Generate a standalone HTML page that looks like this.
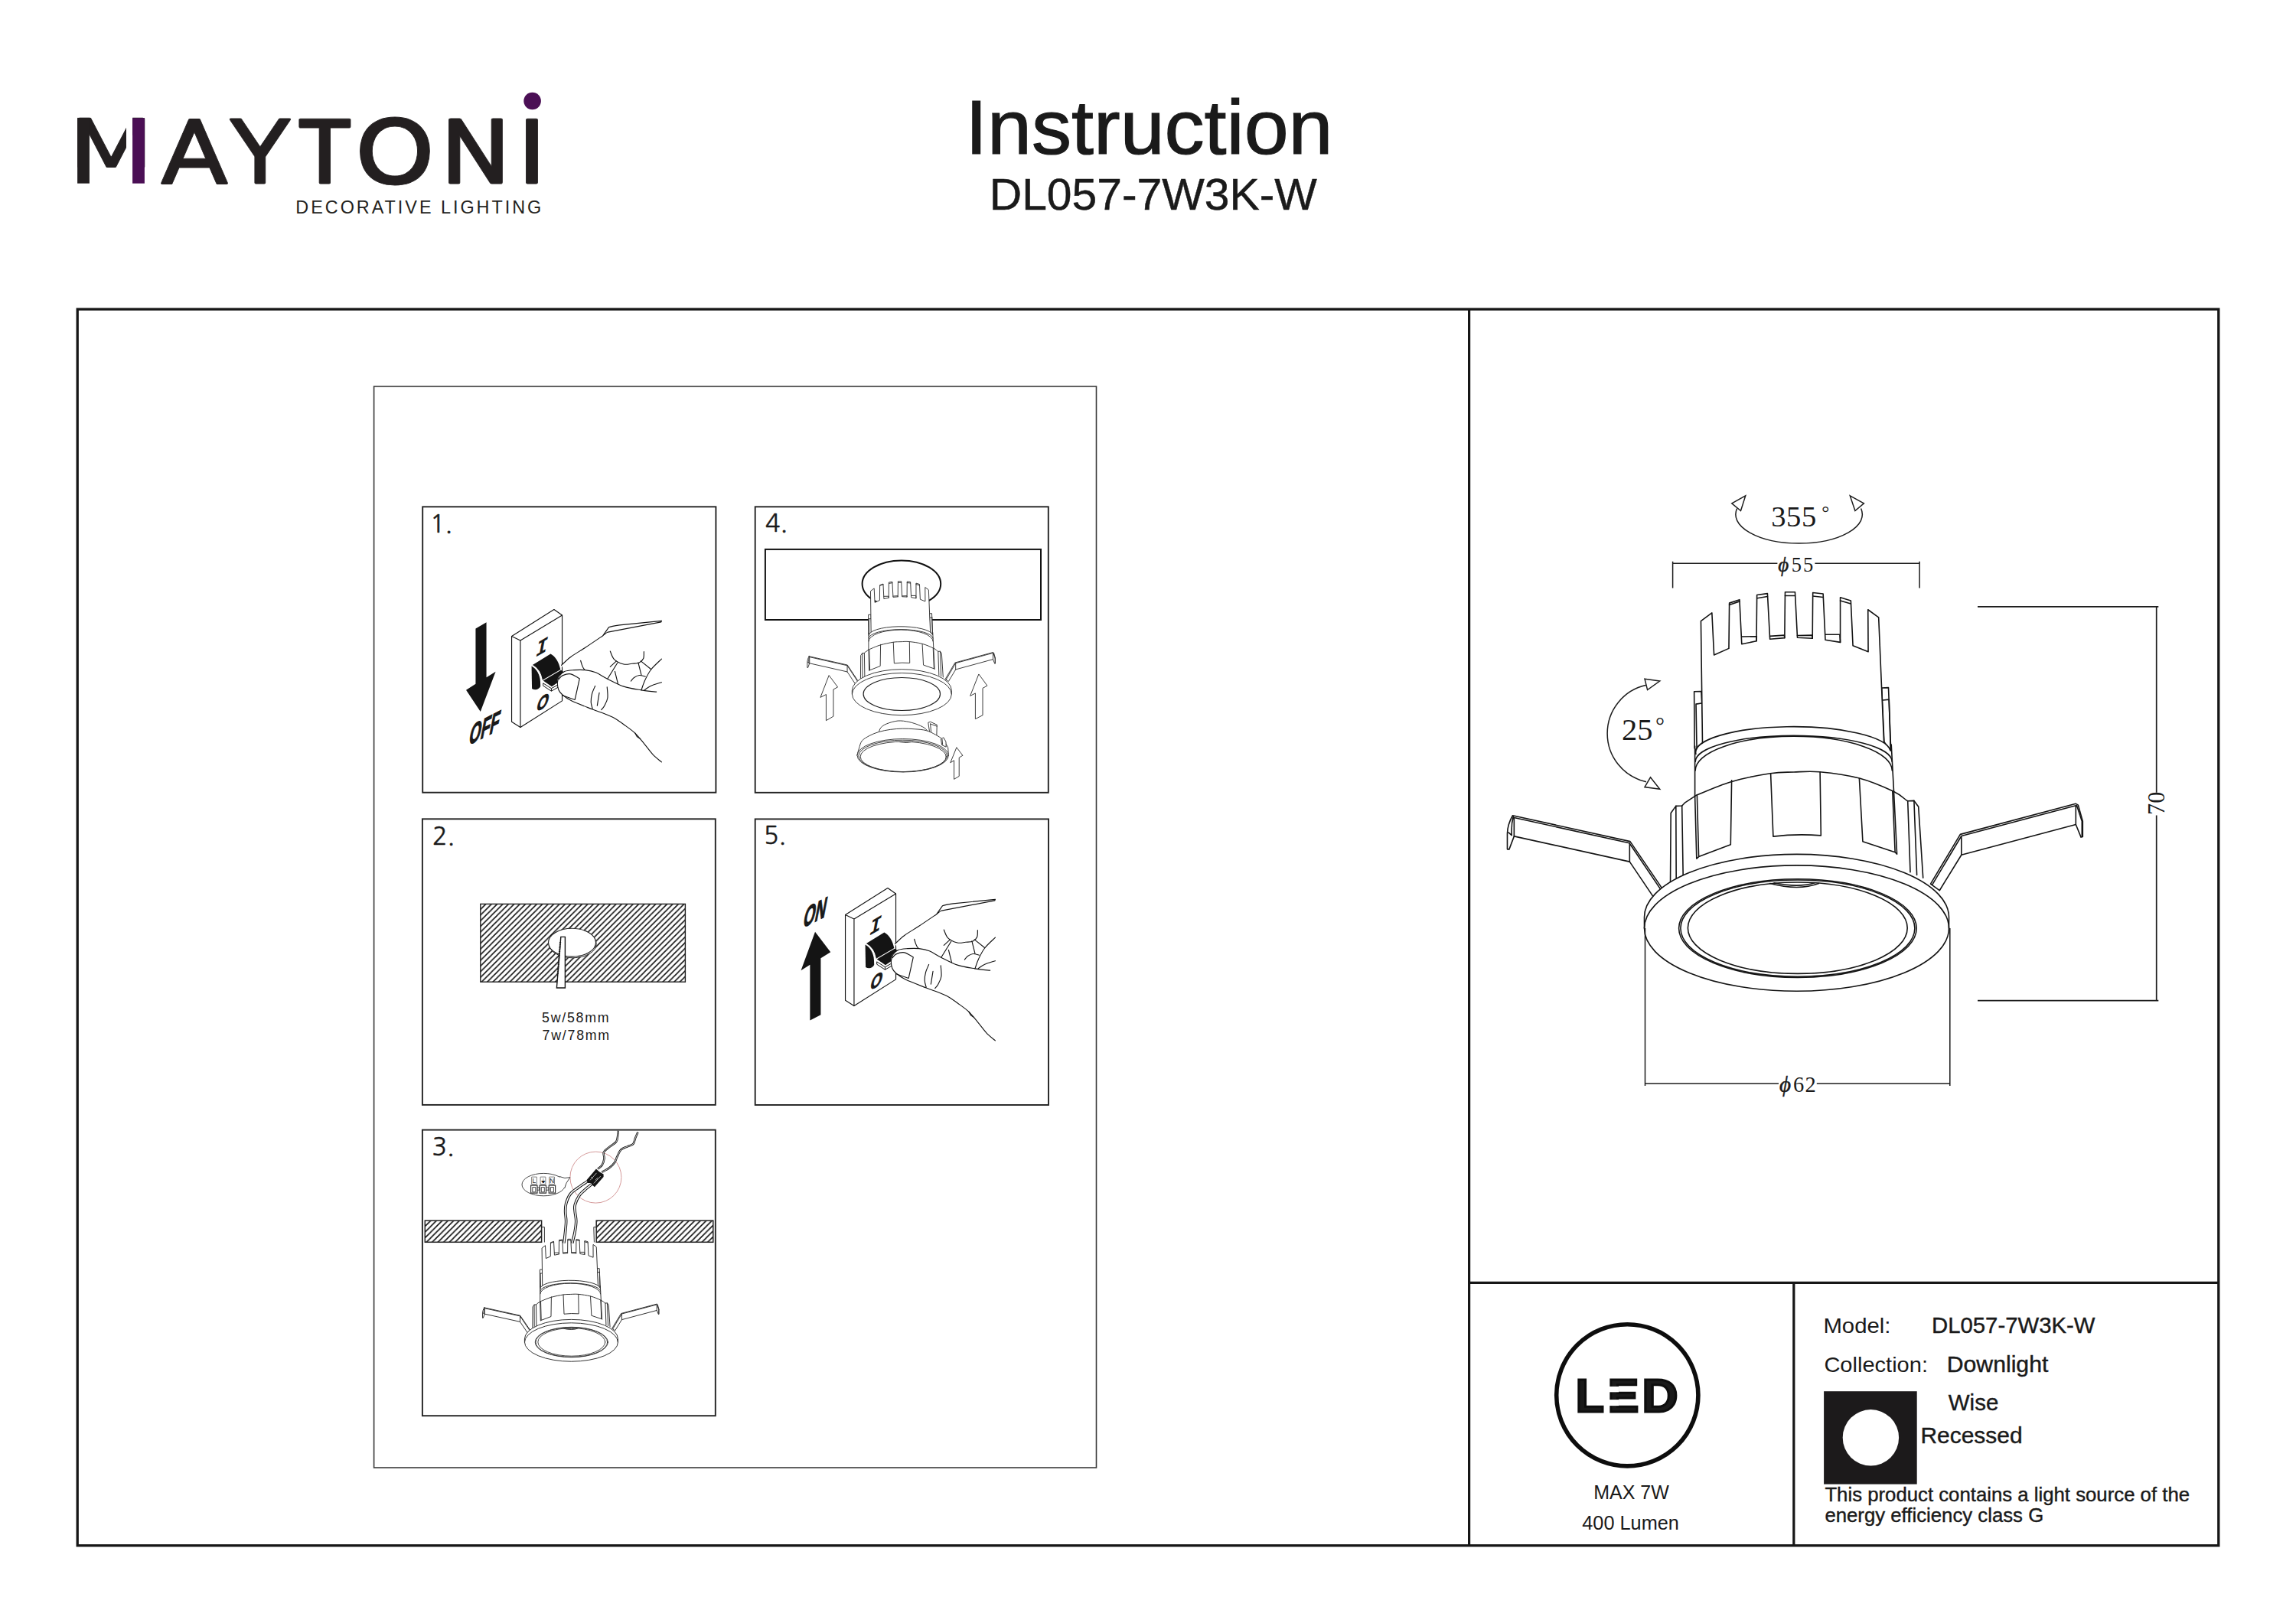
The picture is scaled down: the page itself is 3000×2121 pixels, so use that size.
<!DOCTYPE html>
<html lang="en"><head><meta charset="utf-8"><title>Instruction DL057-7W3K-W</title>
<style>
html,body{margin:0;padding:0;background:#fff}
body{width:3000px;height:2121px;overflow:hidden;position:relative}
svg{position:absolute;left:0;top:0;display:block}
text{font-family:"Liberation Sans",sans-serif;fill:#1a1a1a}
.se{font-family:"Liberation Serif",serif}
.ng{font-family:"NanumGothic","Liberation Sans",sans-serif}
.k{fill:none;stroke:var(--c,#141414);vector-effect:non-scaling-stroke;stroke-linecap:round;stroke-linejoin:round}
.kw{fill:#fff;stroke:var(--c,#141414);vector-effect:non-scaling-stroke;stroke-linecap:round;stroke-linejoin:round}
.w{fill:#fff;stroke:none}
.b{fill:#141414;stroke:none}
</style></head><body>
<svg width="3000" height="2121" viewBox="0 0 3000 2121">
<defs>
<pattern id="hatchA" patternUnits="userSpaceOnUse" width="7.4" height="7.4" patternTransform="translate(627.6,1181.3)">
<path d="M-1,1 L1,-1 M-0.5,7.9 L7.9,-0.5 M6.4,8.4 L8.4,6.4" stroke="#0c0c0c" stroke-width="1.5" fill="none"/>
</pattern>
<pattern id="hatchB" patternUnits="userSpaceOnUse" width="7.5" height="7.5" patternTransform="translate(555.1,1595.4)">
<path d="M-1,1 L1,-1 M-0.5,8 L8,-0.5 M6.5,8.5 L8.5,6.5" stroke="#0c0c0c" stroke-width="1.55" fill="none"/>
</pattern>
<!-- ===== LAMP (absolute coordinates of the big drawing) ===== -->
<g id="lampbody">
 <!-- spring clips: left (zoom origin 1950,1030 s=8.114) -->
 <g transform="translate(1950,1030) scale(0.123244)">
  <path class="kw" d="M215,290 L1460,565 L1810,1078 L1715,1165 L1455,780 L230,510 L178,648 L158,648 L158,480 C160,420 180,350 215,290 Z"/>
  <path class="k" d="M230,312 L1452,582 L1795,1090 M230,312 L230,510 M1455,582 L1455,780 M222,298 C205,360 200,430 205,500 M170,470 L205,500"/>
 </g>
 <!-- right clip (zoom origin 2480,1030 s=8.114) -->
 <g transform="translate(2480,1030) scale(0.123244)">
  <path class="kw" d="M660,490 L1885,165 L1910,180 L1958,350 L1958,515 L1940,520 L1885,385 L672,708 L440,1085 L345,1015 Z"/>
  <path class="k" d="M672,507 L1885,185 L1885,385 M672,507 L672,708 M672,507 L362,1025 M1895,185 L1950,350 L1950,515 M1958,350 L1950,350"/>
 </g>
 <!-- heat sink (zoom origin 2180,750 s=6.24375) -->
 <g transform="translate(2180,750) scale(0.160160)">
  <path class="kw" d="M268,958 L210,960 L213,1420 L232,1462 L290,1400 Z"/>
  <path class="kw" d="M1740,930 L1795,928 L1815,1440 L1810,1440 L1760,1370 Z"/>
  <path class="k" d="M225,1062 L270,1055 M225,1062 L232,1462 M1750,1030 L1800,1025 M1800,1025 L1812,1435"/>
  <path class="w" d="M278,1500 L265,385 L355,318 L372,662 L493,608 L497,238 L580,210 L598,573 L718,548 L722,172 L808,160 L828,532 L948,522 L952,148 L1033,148 L1052,520 L1175,526 L1178,153 L1262,162 L1280,538 L1402,558 L1402,192 L1488,218 L1505,585 L1630,635 L1628,292 L1715,355 L1760,1500 Z"/>
  <path class="k" d="M278,1400 L265,385 L355,318 L372,662 L493,608 L497,238 L580,210 L598,573 L718,548 L722,172 L808,160 L828,532 L948,522 L952,148 L1033,148 L1052,520 L1175,526 L1178,153 L1262,162 L1280,538 L1402,558 L1402,192 L1488,218 L1505,585 L1630,635 L1628,292 L1715,355 L1758,1372"/>
  <path class="k" d="M497,253 L580,224 M725,198 L808,184 M952,178 L1033,178 M1178,181 L1262,190 M1402,218 L1488,244 M598,512 L720,510 L718,548 M828,508 L945,500 L948,522 M1052,503 L1172,500 L1175,526 M1280,495 L1398,495 L1402,558"/>
 </g>
 <!-- collar / neck -->
 <path class="w" d="M2215.7,984.6 A127.3,35.2 0 0 1 2470.3,984.6 L2478.6,1116 L2216.8,1122 Z"/>
 <path class="k" d="M2215.9,985.5 A127.3,33.6 0 0 1 2470.1,981"/>
 <path class="k" d="M2215.1,995.4 A128.6,34.2 0 0 1 2472.3,995.4 M2215.1,1007 A128.6,44.7 0 0 1 2472.3,1007"/>
 <path class="k" d="M2214.6,975 L2214.6,1039.3 L2216.8,1122.1 M2471.2,973 L2474.5,1034.3 L2478.6,1116.3"/>
 <!-- body -->
 <path class="w" d="M2182.5,1165 L2183.2,1062.5 L2189.8,1053.4 L2197.7,1053 L2201.4,1049.2 L2216.3,1039.3 C2223.8,1036.4 2244.9,1026.7 2261,1021.9 C2277.1,1017.1 2299.3,1012.9 2313.1,1010.8 C2326.9,1008.6 2332.9,1009.4 2343.7,1009 C2354.4,1008.6 2363.3,1007.4 2377.6,1008.7 C2391.9,1010 2413.4,1012.8 2429.4,1017 C2445.4,1021.2 2463.3,1029.2 2473.6,1034 C2483.9,1038.8 2488.1,1043.9 2491,1045.9 L2492.7,1046.8 L2500.9,1046.4 L2506.7,1054.2 L2512.7,1165 Z"/>
 <path class="k" d="M2182.5,1155.8 L2183.2,1062.5 L2189.8,1053.4 L2197.7,1053 L2201.4,1049.2 L2216.3,1039.3 C2223.8,1036.4 2244.9,1026.7 2261,1021.9 C2277.1,1017.1 2299.3,1012.9 2313.1,1010.8 C2326.9,1008.6 2332.9,1009.4 2343.7,1009 C2354.4,1008.6 2363.3,1007.4 2377.6,1008.7 C2391.9,1010 2413.4,1012.8 2429.4,1017 C2445.4,1021.2 2463.3,1029.2 2473.6,1034 C2483.9,1038.8 2488.1,1043.9 2491,1045.9 L2492.7,1046.8 L2500.9,1046.4 L2506.7,1054.2 L2512.7,1147.1"/>
 <path class="k" d="M2189.8,1053.4 L2190.2,1151.9 M2197.7,1053 L2199.2,1146.2 M2492.7,1046.8 L2496,1139.7 M2500.9,1046.4 L2504.6,1143.4"/>
 <path class="k" d="M2214.6,1039.3 L2216.8,1122.1 L2219.6,1119.6 L2261.3,1103.8 L2262.6,1019.8 M2217.4,1039.3 L2219.6,1119.6"/>
 <path class="k" d="M2313.6,1010.8 L2316.9,1093.1 Q2348,1089.3 2379.3,1091.9 L2378.1,1008.7"/>
 <path class="k" d="M2429.4,1017.5 L2433.9,1099.7 L2476.1,1113.8 L2478.6,1116.3 L2474.5,1034.3 M2472.8,1034.3 L2476.1,1113.8"/>
 <!-- ring -->
 <path class="kw" d="M2148.5,1198.6 A199,82.2 0 0 1 2546.5,1198.6 L2546.5,1213.1 A199,82.2 0 0 1 2148.5,1213.1 Z"/>
 <path class="k" d="M2148.5,1213.1 A199,82.2 0 0 1 2546.5,1213.1"/>
</g>
<g id="lampinner">
 <ellipse class="k" cx="2348.9" cy="1213.1" rx="155.3" ry="64.3"/>
 <ellipse class="k" cx="2348.9" cy="1213.1" rx="153" ry="63.1"/>
 <ellipse class="k" cx="2348.8" cy="1212.7" rx="143.4" ry="59.7"/>
 <path class="k" d="M2312.8,1154.6 Q2350,1164.5 2376.5,1154.6 M2318,1153.8 Q2350,1160.5 2371,1153.8"/>
</g>
<!-- ===== wall switch + hand (step-1 coordinates) ===== -->
<g id="switchhand">
 <g transform="translate(590,780) scale(0.129400)">
  <path class="kw" d="M607,398 L1035,128 L1117,185 L1117,1050 L695,1318 L607,1262 Z"/>
  <path class="k" d="M607,398 L695,440 L1117,185 M695,440 L695,1318"/>
  <!-- toggle -->
  <path class="b" d="M815,690 L1000,575 C1050,600 1085,660 1100,735 L915,842 C905,780 870,720 815,690 Z"/>
  <path class="b" d="M808,700 C858,725 893,790 896,852 L898,905 C883,935 848,948 812,928 Z"/>
  <path class="b" d="M925,847 L1105,740 L1160,775 L1080,860 L1012,906 Z"/>
  <path d="M925,872 L1008,925 L1008,952 L925,898 Z M1008,925 L1090,880 L1090,905 L1008,952" fill="#fff" stroke="#141414" stroke-width="1" vector-effect="non-scaling-stroke"/>
  <path d="M815,690 C870,720 905,780 915,842" fill="none" stroke="#fff" stroke-width="1.1" vector-effect="non-scaling-stroke"/>
 </g>
 <text transform="translate(706.5,855) skewY(-30) skewX(-12) scale(0.95,1)" font-size="27" font-weight="bold" fill="#141414" text-anchor="middle" style="font-family:'Liberation Mono',monospace">I</text>
 <text transform="translate(707.6,926.5) skewY(-30) skewX(-14) scale(0.85,1)" font-size="23" stroke="#141414" stroke-width="0.8" font-weight="bold" fill="#141414" text-anchor="middle">O</text>
 <!-- hand (zoom origin 720,790 s=7.375) -->
 <g transform="translate(720,790) scale(0.135593)">
  <path class="w" d="M100,585 C150,520 300,430 500,300 L555,218 L1065,158 L1065,1518 L810,1240 C778.3,1216.7 688.3,1138.3 620,1100 C551.7,1061.7 470,1038.3 400,1010 C330,981.7 248.3,953.3 200,930 C151.7,906.7 132.5,893.3 110,870 C87.5,846.7 71.7,818.3 65,790 C58.3,761.7 59.2,724.2 70,700 C80.8,675.8 120,654.2 130,645 Z"/>
  <path class="k" d="M100,585 C115,571.7 151.7,533.3 190,505 C228.3,476.7 278.3,449.2 330,415 C381.7,380.8 471.7,319.2 500,300 M500,300 L556,220 C580,208 620,203 660,198 L1065,158 M500,300 C520,285 535,270 548,266 L1060,169 L1065,158"/>
  <path class="k" d="M1015,842 C990.8,839.2 922.5,833.7 870,825 C817.5,816.3 755,808.3 700,790 C645,771.7 585,737.5 540,715 C495,692.5 465,668.8 430,655 C395,641.2 365,635.8 330,632 C295,628.2 253.3,629.8 220,632 C186.7,634.2 153.3,635.3 130,645 C106.7,654.7 91.3,672.5 80,690 C68.7,707.5 63.3,728.3 62,750 C60.7,771.7 64,800 72,820 C80,840 88.7,851.7 110,870 C131.3,888.3 151.7,906.7 200,930 C248.3,953.3 346.7,989.2 400,1010 C453.3,1030.8 483.3,1040 520,1055 C556.7,1070 586.7,1080.8 620,1100 C653.3,1119.2 688.3,1146.7 720,1170 C751.7,1193.3 780,1210.8 810,1240 C840,1269.2 870.8,1310 900,1345 C929.2,1380 957.5,1421.2 985,1450 C1012.5,1478.8 1051.7,1506.7 1065,1518"/>
  <path class="k" d="M810,1240 L830,1275 L860,1295"/>
  <path class="k" d="M75,720 C80.8,714.2 90.8,693.3 110,685 C129.2,676.7 162.5,665 190,670 C217.5,675 260.8,707.5 275,715 M275,715 L230,918 L115,878"/>
  <path class="k" d="M425,785 C420,797.5 401.7,834.2 395,860 C388.3,885.8 384.2,915.8 385,940 C385.8,964.2 397.5,994.2 400,1005 M465,850 L445,975 M540,795 C540.8,812.5 549.2,870 545,900 C540.8,930 525,955.8 515,975 C505,994.2 490,1008.3 485,1015"/>
  <path class="k" d="M570,450 C576.7,463.3 588.3,509.2 610,530 C631.7,550.8 671.7,568.3 700,575 C728.3,581.7 755,572.5 780,570 C805,567.5 831.7,568.3 850,560 C868.3,551.7 882.5,537.5 890,520 C897.5,502.5 894.2,465.8 895,455"/>
  <path class="k" d="M630,545 L570,600 M640,562 L545,715 M615,645 L645,765 M840,560 L870,680 M865,545 L965,625"/>
  <path class="k" d="M1065,525 C1048.3,541.7 991.7,590.8 965,625 C938.3,659.2 920.8,696.7 905,730 C889.2,763.3 875.8,809.2 870,825 M770,738 C775,732.5 786.7,714.3 800,705 C813.3,695.7 831.7,683.7 850,682 C868.3,680.3 900,692.8 910,695 M900,825 C910,818.3 932.5,797.5 960,785 C987.5,772.5 1047.5,755.8 1065,750 M285,540 C287,546.7 292.8,568.3 297,580 C301.2,591.7 305.3,601.7 310,610 C314.7,618.3 322.5,626.7 325,630"/>
 </g>
</g>
</defs>
<g id="frames" fill="none" stroke="#161616">
<rect x="101.2" y="404.1" width="2797.6" height="1615.7" stroke-width="3.3"/>
<line x1="1919.6" y1="404" x2="1919.6" y2="2020" stroke-width="3.2"/>
<line x1="1919.6" y1="1676.3" x2="2899" y2="1676.3" stroke-width="3.2"/>
<line x1="2343.8" y1="1676.3" x2="2343.8" y2="2020" stroke-width="3.2"/>
<rect x="488.6" y="505" width="943.9" height="1413" stroke="#3a3a3a" stroke-width="1.6"/>
<g stroke="#222" stroke-width="1.9">
<rect x="552.2" y="662.3" width="383.2" height="373.4"/>
<rect x="986.7" y="662.3" width="383.1" height="373.5"/>
<rect x="551.9" y="1070.3" width="382.9" height="373.6"/>
<rect x="986.7" y="1070.4" width="383.3" height="373.6"/>
<rect x="551.9" y="1476.6" width="382.9" height="373.6"/>
</g>
</g>
<g id="header">
<text transform="translate(1501.3,201.4) scale(1.031,1)" font-size="101" text-anchor="middle" stroke="#1a1a1a" stroke-width="1.2">Instruction</text>
<text transform="translate(1506.7,273.8) scale(1.014,1)" font-size="58" text-anchor="middle" stroke="#1a1a1a" stroke-width="0.5">DL057-7W3K-W</text>
</g>
<g id="logo">
<text y="239.7" font-size="113" font-weight="bold" stroke="#231f20" stroke-width="0.8" style="fill:#231f20;font-family:'NanumGothic','Liberation Sans',sans-serif"><tspan x="91.8" y="219.3" font-size="85.9" textLength="107.8" lengthAdjust="spacingAndGlyphs">M</tspan><tspan y="239.7" x="209.3" textLength="88.8" lengthAdjust="spacingAndGlyphs">A</tspan><tspan x="298.5" textLength="81.8" lengthAdjust="spacingAndGlyphs">Y</tspan><tspan x="389" textLength="69.5" lengthAdjust="spacingAndGlyphs">T</tspan><tspan x="462.3" textLength="106.8" lengthAdjust="spacingAndGlyphs">O</tspan><tspan x="576.1" textLength="90.4" lengthAdjust="spacingAndGlyphs">N</tspan><tspan x="678.6" textLength="30.8" lengthAdjust="spacingAndGlyphs">I</tspan></text>
<rect x="165" y="150" width="8.2" height="92" fill="#fff"/>
<rect x="173.1" y="154.3" width="15.8" height="85.4" fill="#4b0f55"/>
<rect x="101.1" y="153.9" width="15.8" height="85.8" fill="#231f20"/>
<circle cx="695.6" cy="132" r="11.3" fill="#4b0f55"/>
<text x="386.3" y="278.7" font-size="23.4" style="fill:#231f20" textLength="321" lengthAdjust="spacing">DECORATIVE LIGHTING</text>
</g>
<g id="steps" stroke-width="1.15">
<g font-size="32.2" stroke="#1a1a1a" stroke-width="0.5">
<text class="ng" x="562" y="696">1.</text>
<text class="ng" x="565" y="1104.4">2.</text>
<text class="ng" x="564.5" y="1509.8">3.</text>
<text class="ng" x="1000" y="695.3">4.</text>
<text class="ng" x="998" y="1102.8">5.</text>
</g>
<!-- step 1 -->
<g id="step1">
<use href="#switchhand"/>
<g transform="translate(590,780) scale(0.129400)"><path class="b" d="M243,320 L352,257 L352,813 L445,755 L292,1160 L147,940 L243,880 Z"/></g>
<text transform="translate(611.6,974.3) skewY(-27) skewX(-12) scale(0.555,1)" font-size="35" stroke="#141414" stroke-width="1.2" font-weight="bold" fill="#141414">OFF</text>
</g>
<!-- step 5 -->
<g id="step5">
<use href="#switchhand" transform="translate(436,364)"/>
<g transform="translate(980,1060) scale(0.246457)"><path class="b" d="M345,640 L427,748 L375,780 L375,1080 L318,1110 L318,815 L270,845 Z"/></g>
<text transform="translate(1048.3,1213) skewY(-27) skewX(-12) scale(0.555,1)" font-size="35" stroke="#141414" stroke-width="1.2" font-weight="bold" fill="#141414">ON</text>
</g>
<!-- step 2 -->
<g id="step2">
<rect x="627.8" y="1181.4" width="267.6" height="101.8" fill="url(#hatchA)" stroke="#222" stroke-width="1.4"/>
<ellipse cx="748.2" cy="1233.4" rx="31" ry="18.4" fill="#fff" stroke="#222" stroke-width="1"/>
<ellipse cx="747.5" cy="1231.7" rx="31" ry="18.4" fill="#fff" stroke="#222" stroke-width="1.1"/>
<path d="M732.8,1224.4 H738.4 V1291 H727.4 Z" fill="#fff" stroke="#141414" stroke-width="1.4"/>
<path d="M732.1,1231 L728.6,1274" fill="none" stroke="#141414" stroke-width="2.2" stroke-dasharray="1.2 1.2"/>
<text x="708" y="1335.9" font-size="17.8" letter-spacing="1.75" fill="#222">5w/58mm</text>
<text x="708.6" y="1359.2" font-size="17.8" letter-spacing="1.75" fill="#222">7w/78mm</text>
</g>
<!-- step 3 -->
<g id="step3">
<rect x="555.3" y="1595.1" width="152.3" height="28.2" fill="url(#hatchB)" stroke="#222" stroke-width="1.5"/>
<rect x="779.2" y="1595.1" width="152.6" height="28.2" fill="url(#hatchB)" stroke="#222" stroke-width="1.5"/>
<path d="M707.6,1603.6 H711.4 V1623.5 M779.3,1603.6 H775.8 L776.4,1623.5" fill="none" stroke="#333" stroke-width="1"/>
<circle cx="778.4" cy="1538.6" r="33.5" fill="none" stroke="#d59a9a" stroke-width="1"/>
<g stroke="#333" stroke-width="0.9" fill="none">
<ellipse cx="710.3" cy="1548.1" rx="28.3" ry="14.7"/>
<path d="M731,1537.5 Q738,1541 744.9,1538.6 Q739,1546 737.6,1553" fill="#fff"/>
<path d="M694.6,1538.1 h6.8 v9.4 h-6.8 Z M706.1,1538.1 h6.8 v9.4 h-6.8 Z M717.7,1538.1 h6.8 v9.4 h-6.8 Z" stroke="#777"/>
<path d="M693.6,1549.1 h8.4 v10 h-8.4 Z M705.1,1549.1 h8.4 v10 h-8.4 Z M717.2,1549.1 h8.4 v10 h-8.4 Z" stroke-width="1.2"/>
<path d="M695.8,1551.5 h4 v6.3 h-4 Z M707.3,1551.5 h4 v6.3 h-4 Z M719.4,1551.5 h4 v6.3 h-4 Z M702,1552 h3.1 v3.2 h-3.1 M713.5,1552 h3.7 v3.2 h-3.7"/>
</g>
<g font-size="8.6" fill="#333" text-anchor="middle"><text x="698" y="1546.3">L</text><text x="709.5" y="1546" font-size="7.5" style="font-family:'DejaVu Sans',sans-serif">⏚</text><text x="721.1" y="1546.3">N</text></g>
<g style="--c:#333"><use href="#lampbody" transform="translate(26.9,1382.2) scale(0.3065)" stroke-width="1"/>
<use href="#lampinner" transform="translate(26.9,1382.2) scale(0.3065)" stroke-width="0.9"/></g>
<g transform="translate(670,1470) scale(0.104778)" fill="none" stroke-linecap="butt">
<g stroke="#141414" stroke-width="3.6" vector-effect="non-scaling-stroke">
<path id="w1" vector-effect="non-scaling-stroke" d="M638,1475 C640.8,1450.8 650.5,1375.8 655,1330 C659.5,1284.2 665,1241.7 665,1200 C665,1158.3 655,1116.7 655,1080 C655,1043.3 654.2,1016.7 665,980 C675.8,943.3 694.2,893.3 720,860 C745.8,826.7 785,805.8 820,780 C855,754.2 911.7,717.5 930,705"/>
<path id="w2" vector-effect="non-scaling-stroke" d="M742,1475 C747.5,1450.8 767,1375.8 775,1330 C783,1284.2 790,1241.7 790,1200 C790,1158.3 777.5,1113.3 775,1080 C772.5,1046.7 765.8,1033.3 775,1000 C784.2,966.7 809.2,911.7 830,880 C850.8,848.3 874.2,833.3 900,810 C925.8,786.7 970.8,751.7 985,740"/>
</g>
<g stroke="#fff" stroke-width="1.5"><use href="#w1"/><use href="#w2"/></g>
<g stroke="#141414" stroke-width="2.5">
<path id="w3" vector-effect="non-scaling-stroke" d="M1060,550 C1069.2,541.7 1101.7,521.7 1115,500 C1128.3,478.3 1136.7,446.7 1140,420 C1143.3,393.3 1125,363.3 1135,340 C1145,316.7 1174.2,301.7 1200,280 C1225.8,258.3 1271.7,235 1290,210 C1308.3,185 1305.8,153.3 1310,130 C1314.2,106.7 1314.2,80 1315,70"/>
<path id="w4" vector-effect="non-scaling-stroke" d="M1110,590 C1125,581.7 1173.3,560 1200,540 C1226.7,520 1253.3,493.3 1270,470 C1286.7,446.7 1286.7,426.7 1300,400 C1313.3,373.3 1328.3,331.7 1350,310 C1371.7,288.3 1405,281.7 1430,270 C1455,258.3 1483.3,258.3 1500,240 C1516.7,221.7 1520,185 1530,160 C1540,135 1555,101.7 1560,90"/>
</g>
<g stroke="#fff" stroke-width="0.8"><use href="#w3"/><use href="#w4"/></g>
<path d="M920,690 L1040,548 L1078,585 L1132,615 L1132,650 L1020,775 L985,745 L975,725 L935,725 Z" fill="#141414" stroke="none"/>
<path d="M965,690 L1045,600 M1010,730 L1095,640 M975,650 L1000,670 M1030,690 L1060,660" stroke="#fff" stroke-width="0.7" vector-effect="non-scaling-stroke"/>
</g>
</g>
<!-- step 4 -->
<g id="step4">
<rect x="999.9" y="717.9" width="360.1" height="92.1" fill="none" stroke="#111" stroke-width="2"/>
<ellipse cx="1177.9" cy="763" rx="51.3" ry="30.6" fill="#fff" stroke="#111" stroke-width="2"/>
<g style="--c:#333">
<use href="#lampbody" transform="translate(411.4,500.35) scale(0.3267,0.3353)" stroke-width="0.95"/>
</g>
<ellipse cx="1178.3" cy="907" rx="50.2" ry="21.5" fill="none" stroke="#222" stroke-width="1.2"/>
<g transform="translate(1040,840) scale(0.123244)" stroke-width="0.95" style="--c:#333">
<path class="kw" d="M352,348 L443,470 L397,495 L397,780 L320,825 L320,548 L262,578 Z"/>
<path class="kw" d="M1940,335 L2028,455 L1980,482 L1980,768 L1902,808 L1902,535 L1850,562 Z"/>
<path class="kw" d="M1705,1112 L1768,1195 L1730,1218 L1730,1415 L1676,1447 L1676,1248 L1640,1270 Z"/>
<!-- lens -->
<path class="kw" d="M1405,845 L1425,838 L1495,870 L1490,1045 L1432,1032 Z"/>
<path class="k" d="M1425,860 L1495,886 M1425,860 L1440,1030"/>
<path class="kw" d="M880,945 C883.3,937.5 886.7,914.2 900,900 C913.3,885.8 930,872 960,860 C990,848 1040,831.3 1080,828 C1120,824.7 1160,831.3 1200,840 C1240,848.7 1288.3,865 1320,880 C1351.7,895 1371.7,904.2 1390,930 C1408.3,955.8 1423.3,1017.5 1430,1035 L880,1000 Z"/>
<path class="kw" d="M672,1110 C676.7,1098.3 682,1060.8 700,1040 C718,1019.2 750,1000.8 780,985 C810,969.2 843.3,955.8 880,945 C916.7,934.2 958.3,925.8 1000,920 C1041.7,914.2 1086.7,910.8 1130,910 C1173.3,909.2 1218.3,911.7 1260,915 C1301.7,918.3 1343.3,920 1380,930 C1416.7,940 1450,958.3 1480,975 C1510,991.7 1538,1007.5 1560,1030 C1582,1052.5 1603.3,1096.7 1612,1110 L1618,1195 L650,1195 Z"/>
<path class="kw" d="M1540,1020 L1565,1005 L1590,1050 L1592,1105 L1550,1085 Z"/>
<path class="k" d="M1550,1025 L1555,1080"/>
<ellipse class="kw" cx="1134" cy="1195" rx="484" ry="176"/>
<ellipse class="k" cx="1134" cy="1200" rx="470" ry="168"/>
<ellipse class="k" cx="1138" cy="1208" rx="455" ry="160"/>
<path class="k" d="M1100,1052 Q1170,1066 1240,1050"/>
</g>
</g>
</g>
<g id="bigdrawing" stroke-width="1.6">
<use href="#lampbody"/>
<use href="#lampinner"/>
<g fill="none" stroke="#1c1c1c" stroke-width="1.5">
<!-- 355 rotation arc -->
<path d="M2269.6,664.5 A82.75,37.8 0 1 0 2431.6,664.5"/>
<path d="M2262.8,657.9 L2280.7,647.9 L2274.5,667.5 Z M2417.3,647.9 L2435.4,657.9 L2423.9,667.5 Z" fill="#fff"/>
<!-- d55 -->
<path d="M2185.6,736.3 H2322.4 M2371.4,736.3 H2508.1 M2185.6,733.7 V768.5 M2508.1,733.7 V768.5"/>
<!-- 25 tilt arc -->
<path d="M2151,895.3 A64.7,64.7 0 0 0 2151,1021.7"/>
<path d="M2149,887.2 L2168.7,890 L2152.6,901.6 Z M2156.5,1015.8 L2168.7,1031.3 L2149,1028.6 Z" fill="#fff"/>
<!-- 70 -->
<path d="M2584,792.9 H2820.3 M2584,1307.7 H2820.3 M2817.7,792.9 V1035.7 M2817.7,1065.6 V1307.7" stroke-width="1.7"/>
<!-- d62 -->
<path d="M2149.5,1213 V1419 M2547.8,1213 V1419 M2149.5,1416.1 H2324 M2373.8,1416.1 H2547.8"/>
</g>
<text class="se" x="2314.2" y="687.6" font-size="38.6" letter-spacing="0.6">355<tspan font-size="25" dx="6.5" dy="-9.5">°</tspan></text>
<text class="se" x="2119" y="966.6" font-size="40.5">25<tspan font-size="30" dx="3.5" dy="-8.5">°</tspan></text>
<text class="se" x="2323.2" y="746.5" font-size="26.5"><tspan font-style="italic" font-size="27" stroke="#1a1a1a" stroke-width="0.5">ϕ</tspan><tspan dx="3.5" letter-spacing="2.2">55</tspan></text>
<text class="se" x="2325" y="1426.6" font-size="28.5"><tspan font-style="italic" font-size="29" stroke="#1a1a1a" stroke-width="0.5">ϕ</tspan><tspan dx="3" letter-spacing="1.2">62</tspan></text>
<text class="se" transform="translate(2827.9,1065) rotate(-90)" font-size="30.5">70</text>
</g>
<g id="info">
<circle cx="2126.3" cy="1823.3" r="92.6" fill="none" stroke="#0d0d0d" stroke-width="5.6"/>
<text y="1845.4" font-size="60.8" font-weight="bold" fill="#0d0d0d" stroke="#0d0d0d" stroke-width="3" stroke-linejoin="miter"><tspan x="2058.8">L</tspan><tspan x="2100.7">E</tspan><tspan x="2145.45" textLength="47" lengthAdjust="spacingAndGlyphs">D</tspan></text>
<rect x="2102" y="1811.9" width="13.1" height="7.4" fill="#fff"/><rect x="2102" y="1829.1" width="13.1" height="8" fill="#fff"/>
<text x="2131.5" y="1958.6" font-size="25" text-anchor="middle">MAX 7W</text>
<text x="2130.6" y="1999" font-size="25.3" text-anchor="middle">400 Lumen</text>
<text transform="translate(2382.4,1742) scale(1.06,1)" font-size="27.7">Model:</text>
<text transform="translate(2524,1742) scale(1.012,1)" font-size="29" stroke="#1a1a1a" stroke-width="0.4">DL057-7W3K-W</text>
<text transform="translate(2383.4,1793) scale(1.038,1)" font-size="28">Collection:</text>
<text transform="translate(2543.8,1793) scale(1.027,1)" font-size="29.4" stroke="#1a1a1a" stroke-width="0.4">Downlight</text>
<text transform="translate(2545.8,1843.3) scale(1.02,1)" font-size="28.9" stroke="#1a1a1a" stroke-width="0.4">Wise</text>
<text transform="translate(2509.4,1886.4) scale(1.037,1)" font-size="28.9" stroke="#1a1a1a" stroke-width="0.4">Recessed</text>
<rect x="2383.1" y="1818.2" width="121.6" height="121.4" fill="#1c1a1b"/>
<circle cx="2444.4" cy="1878.8" r="36.7" fill="#fff"/>
<text x="2384.4" y="1961.9" font-size="25.75" stroke="#1a1a1a" stroke-width="0.4">This product contains a light source of the</text>
<text x="2384.4" y="1989.4" font-size="25.75" stroke="#1a1a1a" stroke-width="0.4">energy efficiency class G</text>
</g>
</svg>
</body></html>
